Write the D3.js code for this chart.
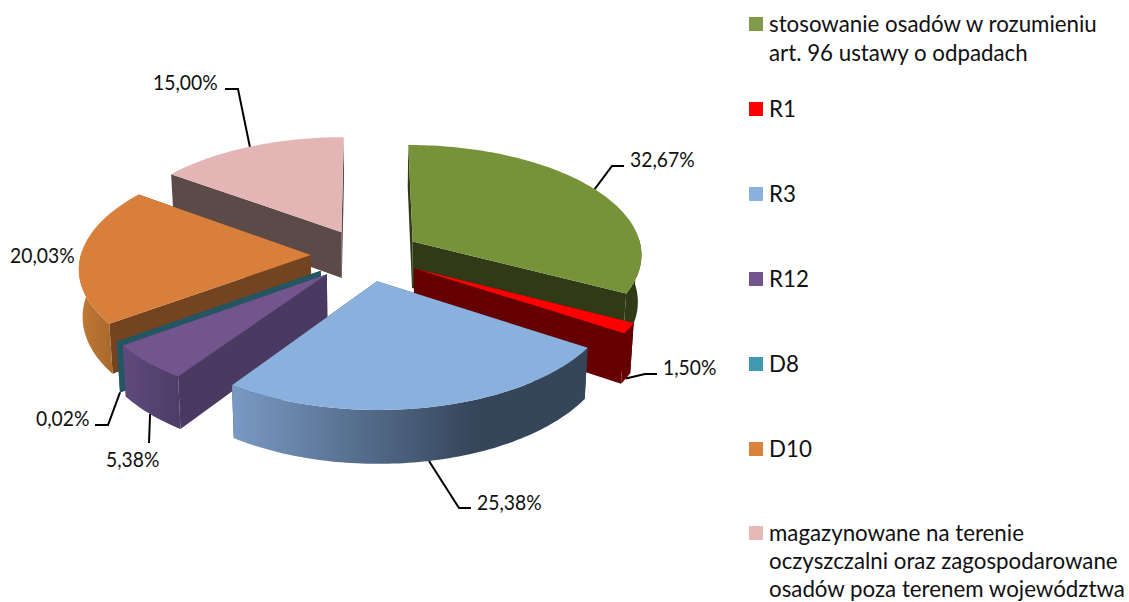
<!DOCTYPE html>
<html><head><meta charset="utf-8">
<script src="https://cdn.jsdelivr.net/npm/d3@7/dist/d3.min.js"></script>
<style>html,body{margin:0;padding:0;background:#fff}svg{display:block}text{font-family:Lato,"Open Sans",sans-serif;fill:#111}</style>
</head><body><svg id="c" width="1129" height="602"></svg>
<script>
const categories = ["stosowanie osadów w rozumieniu art. 96 ustawy o odpadach","R1","R3","R12","D8","D10","magazynowane na terenie oczyszczalni oraz zagospodarowane osadów poza terenem województwa"];
const values = [32.67,1.50,25.38,5.38,0.02,20.03,15.00];
const legendLines = [["stosowanie osadów w rozumieniu","art. 96 ustawy o odpadach"],["R1"],["R3"],["R12"],["D8"],["D10"],["magazynowane na terenie","oczyszczalni oraz zagospodarowane","osadów poza terenem województwa"]];
const topColors = ["#779339","#ff0000","#8ab0dd","#71558c","#2f8ea6","#d77f3b","#e3b6b5"];
const legendColors = ["#7f9a48","#ff0000","#8db1de","#71558c","#4198af","#d9823b","#e6b9b8"];
const innerColors = ["#303a17","#660000","#3a4a60","#4a3960","#245562","#74431f","#5b4a47"];
const outerLeft = ["#303a17","#660000","#7a9ac4","#604a7e","#245562","#c27a36","#6b5654"];
const outerRight = ["#303a17","#660000","#35465b","#4d3c66","#245562","#a8682c","#5b4a47"];
const drawOrder = [6,0,5,1,4,3,2];
// label layout: text anchor position, plus leader elbow and end (null = no leader)
const labelPos = [[630,160],[663,368],[477,503],[106,460],[36,419],[10,256],[153,83]];
const leaderMid = [[[612,166],[624,166]],[[645,374],[657,374]],[[459,508],[471,508]],[[149,443]],[[108,425],[95,425]],null,[[238,89],[225,89]]];
const leaderOnBase = [false,true,true,true,true,false,false];

const cx=366, cy=255, A=230, B=109.3, H=47, K=0.104, EXPL=0.24, BASEX=0.987;
const LABEL_FS=21, LABEL_SQUEEZE=0.919, LEGEND_FS=22.3;
const svg=d3.select("#c"), defs=svg.append("defs");
const fmt=d3.formatLocale({decimal:",",thousands:" ",grouping:[3],currency:["",""]}).format(".2f");
const arcs=d3.pie().sort(null).value(d=>d)(values);

// perspective projection of pie-plane coords; h=0 top, h=1 base
function proj(wx,wz,h){
  const d=1-K*wz;
  return [cx+A*wx/d*(h?BASEX:1), cy+(B*wz+H*h)/d];
}
function wedgeFns(a){
  const m=(a.startAngle+a.endAngle)/2;
  const ox=EXPL*Math.sin(m), oz=-EXPL*Math.cos(m);
  const rim=(t,h)=>proj(ox+Math.sin(t),oz-Math.cos(t),h);
  const apex=h=>proj(ox,oz,h);
  return {rim,apex,m};
}
const line=d3.line();
drawOrder.forEach(i=>{
  const a=arcs[i], f=wedgeFns(a);
  const n=Math.max(2,Math.ceil((a.endAngle-a.startAngle)/0.02));
  const ts=d3.range(n+1).map(k=>a.startAngle+(a.endAngle-a.startAngle)*k/n);
  const g=svg.append("g");
  const id="g"+i;
  const lg=defs.append("linearGradient").attr("id",id).attr("x1",0).attr("x2",1).attr("y1",0).attr("y2",0);
  lg.append("stop").attr("offset",0).attr("stop-color",outerLeft[i]);
  lg.append("stop").attr("offset",i==2?0.68:1).attr("stop-color",outerRight[i]);
  lg.append("stop").attr("offset",1).attr("stop-color",outerRight[i]);
  // radial walls
  [a.startAngle,a.endAngle].forEach(t=>{
    g.append("path").attr("d",line([f.apex(0),f.rim(t,0),f.rim(t,1),f.apex(1)])+"Z").attr("fill",innerColors[i]);
  });
  // outer wall: visible front part only
  const front=ts.filter(t=>Math.cos(t)<0.05);
  if(front.length>1){
    const pts=front.map(t=>f.rim(t,0)).concat(front.slice().reverse().map(t=>f.rim(t,1)));
    g.append("path").attr("d",line(pts)+"Z").attr("fill",`url(#${id})`);
  }
  // top face
  const top=[f.apex(0)].concat(ts.map(t=>f.rim(t,0)));
  if(i!==4) g.append("path").attr("d",line(top)+"Z").attr("fill",topColors[i]);
});

// leaders
arcs.forEach((a,i)=>{
  if(!leaderMid[i])return;
  const f=wedgeFns(a);
  const p=[f.rim(f.m,leaderOnBase[i]?1:0)].concat(leaderMid[i]);
  svg.append("path").attr("d",line(p)).attr("fill","none").attr("stroke","#000").attr("stroke-width",2);
});
// data labels
values.forEach((v,i)=>{
  const t=svg.append("text").attr("x",labelPos[i][0]).attr("y",labelPos[i][1]).attr("dy","0.35em")
    .attr("font-size",LABEL_FS).text(fmt(v)+"%");
  t.attr("lengthAdjust","spacingAndGlyphs").attr("textLength",t.node().getComputedTextLength()*LABEL_SQUEEZE);
});
// legend
const legendX=749, swatch=14, textX=769;
const legendY=d3.scalePoint().domain(d3.range(1,6)).range([109,449]);
const firstY=[24,...d3.range(1,6).map(legendY),533];
const lineSteps=[29,29,29,29,29,29,28];
legendLines.forEach((ls,i)=>{
  const y=firstY[i];
  svg.append("rect").attr("x",legendX).attr("y",y-7).attr("width",swatch).attr("height",swatch).attr("fill",legendColors[i]);
  ls.forEach((s,j)=>svg.append("text").attr("x",textX).attr("y",y+j*lineSteps[i]).attr("dy","0.35em").attr("font-size",LEGEND_FS).text(s));
});
</script></body></html>
